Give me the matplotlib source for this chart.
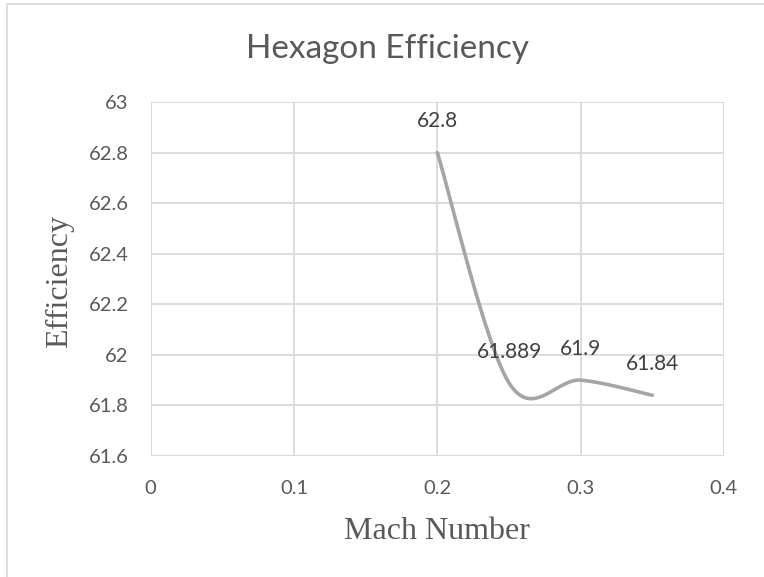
import numpy as np
import matplotlib
matplotlib.use("Agg")
import matplotlib.pyplot as plt
from matplotlib.lines import Line2D

# Data
mach = [0.2, 0.25, 0.3, 0.35]
efficiency = [62.8, 61.889, 61.9, 61.84]
labels = ["62.8", "61.889", "61.9", "61.84"]
x_ticks = [0, 0.1, 0.2, 0.3, 0.4]
x_tick_labels = ["0", "0.1", "0.2", "0.3", "0.4"]
y_ticks = [61.6, 61.8, 62.0, 62.2, 62.4, 62.6, 62.8, 63.0]
y_tick_labels = ["61.6", "61.8", "62", "62.2", "62.4", "62.6", "62.8", "63"]


def excel_smooth(xs, ys, n=60):
    xs = np.asarray(xs, float)
    ys = np.asarray(ys, float)
    px = np.concatenate([[xs[0]], xs, [xs[-1]]])
    py = np.concatenate([[ys[0]], ys, [ys[-1]]])
    outx, outy = [], []
    t = np.linspace(0, 1, n)
    for i in range(1, len(px) - 2):
        p0 = np.array([px[i], py[i]])
        p3 = np.array([px[i + 1], py[i + 1]])
        c1 = p0 + (np.array([px[i + 1], py[i + 1]]) - np.array([px[i - 1], py[i - 1]])) / 6
        c2 = p3 - (np.array([px[i + 2], py[i + 2]]) - np.array([px[i], py[i]])) / 6
        b = ((1 - t) ** 3)[:, None] * p0 + (3 * (1 - t) ** 2 * t)[:, None] * c1 \
            + (3 * (1 - t) * t ** 2)[:, None] * c2 + (t ** 3)[:, None] * p3
        outx.extend(b[:, 0])
        outy.extend(b[:, 1])
    return outx, outy


SANS = "Lato"
SERIF = "Liberation Serif"
TXT = "#595959"
GRID = "#D9D9D9"

fig = plt.figure(figsize=(7.64, 5.77), dpi=100)
ax = fig.add_axes([150.7 / 764, 1 - 456 / 577, (724 - 150.7) / 764, (456 - 102) / 577])

ax.set_xlim(0, 0.4)
ax.set_ylim(61.6, 63.0)
ax.set_xticks(x_ticks)
ax.set_xticklabels(x_tick_labels, fontfamily=SANS, fontsize=14.5, color=TXT)
ax.set_yticks(y_ticks)
ax.set_yticklabels(y_tick_labels, fontfamily=SANS, fontsize=14.5, color=TXT)
ax.tick_params(axis="both", length=0)
ax.tick_params(axis="x", pad=17)
ax.tick_params(axis="y", pad=16)
ax.grid(True, color=GRID, linewidth=1.3)
ax.set_axisbelow(True)
for s in ax.spines.values():
    s.set_visible(False)
# edge gridlines
for xv in (0, 0.4):
    ax.axvline(xv, color=GRID, linewidth=1.3, zorder=0.5)
for yv in (61.6, 63.0):
    ax.axhline(yv, color=GRID, linewidth=1.3, zorder=0.5)

sx, sy = excel_smooth(mach, efficiency)
ax.plot(sx, sy, color="#A5A5A5", linewidth=2.6, solid_capstyle="round", zorder=3, clip_on=False)

for xv, yv, lab in zip(mach, efficiency, labels):
    ax.annotate(lab, (xv, yv), xytext=(0, 22.5), textcoords="offset points",
                ha="center", va="center", fontfamily=SANS, fontsize=15, color="#404040", zorder=4)

fig.text(388 / 764, 1 - 58 / 577, "Hexagon Efficiency", ha="center", va="baseline",
         fontfamily=SANS, fontsize=24, color=TXT)
fig.text(437 / 764, 1 - 539 / 577, "Mach Number", ha="center", va="baseline",
         fontfamily=SERIF, fontsize=23, color=TXT)
fig.text(60 / 764, 1 - 282 / 577, "Efficiency", ha="center", va="center", rotation=90,
         fontfamily=SERIF, fontsize=23, color=TXT)

# chart-area border (left and top visible)
fig.add_artist(Line2D([7 / 764, 7 / 764, 1.0], [0.0, 1 - 4 / 577, 1 - 4 / 577],
                      transform=fig.transFigure, color=GRID, linewidth=1.3))

fig.savefig("out.png", dpi=100, facecolor="white")
